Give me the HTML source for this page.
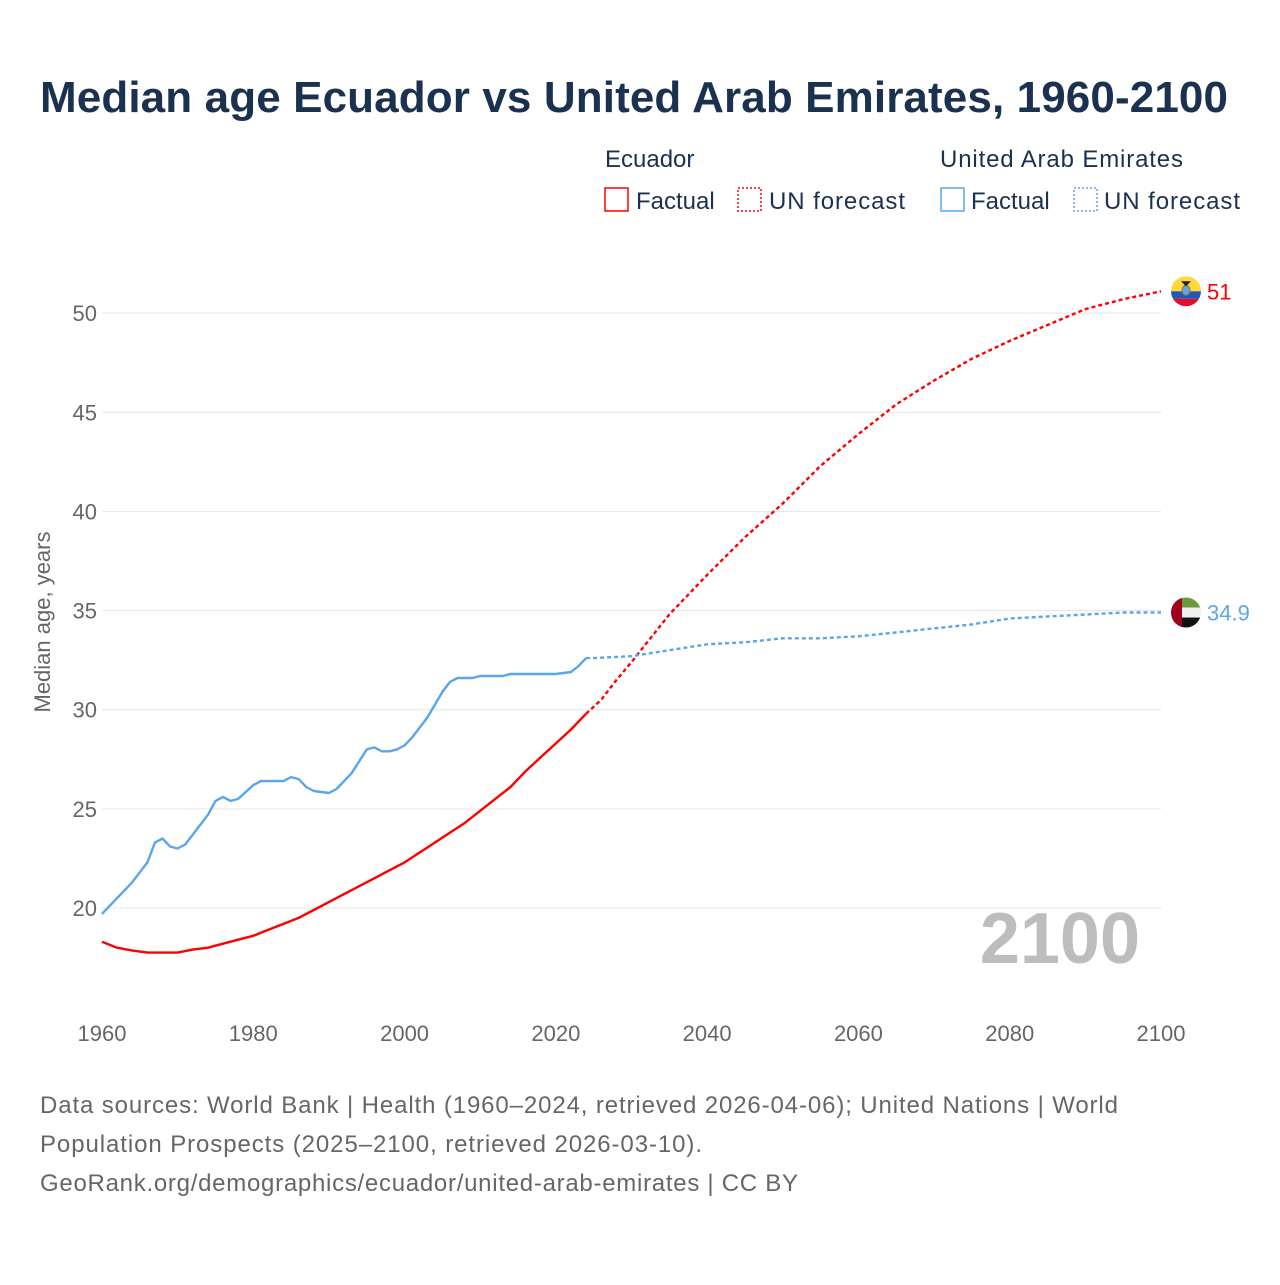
<!DOCTYPE html>
<html><head><meta charset="utf-8"><style>
body{margin:0;background:#fff;font-family:"Liberation Sans",sans-serif;}
svg text{font-family:"Liberation Sans",sans-serif;}
</style></head><body>
<svg id="chart" width="1280" height="1280" viewBox="0 0 1280 1280">
<rect width="1280" height="1280" fill="#fff"/>
<text x="40" y="112" font-size="44" font-weight="bold" fill="#1a3150" textLength="1188">Median age Ecuador vs United Arab Emirates, 1960-2100</text>
<g font-size="24" fill="#1a3150">
<text x="605" y="167">Ecuador</text>
<rect x="605" y="188" width="23" height="23" fill="none" stroke="#f00" stroke-width="1.5"/>
<text x="636" y="209">Factual</text>
<rect x="738" y="188" width="23" height="23" fill="none" stroke="#f00" stroke-width="1.5" stroke-dasharray="2,2"/>
<text x="769" y="209" textLength="136">UN forecast</text>
<text x="940" y="167" textLength="243">United Arab Emirates</text>
<rect x="941" y="188" width="23" height="23" fill="none" stroke="#5aa5ec" stroke-width="1.5"/>
<text x="971" y="209">Factual</text>
<rect x="1074" y="188" width="23" height="23" fill="none" stroke="#5aa5ec" stroke-width="1.5" stroke-dasharray="2,2"/>
<text x="1104" y="209" textLength="136">UN forecast</text>
</g>
<g id="grid"></g><g id="axes"></g><g id="series"></g>
<text x="1140" y="963" font-size="72" font-weight="bold" fill="#bdbdbd" text-anchor="end">2100</text>
<text transform="translate(50,622) rotate(-90)" font-size="22" fill="#666" text-anchor="middle">Median age, years</text>
<g font-size="24" fill="#666">
<text x="40" y="1113" textLength="1078">Data sources: World Bank | Health (1960–2024, retrieved 2026-04-06); United Nations | World</text>
<text x="40" y="1152" textLength="662">Population Prospects (2025–2100, retrieved 2026-03-10).</text>
<text x="40" y="1191" textLength="758">GeoRank.org/demographics/ecuador/united-arab-emirates | CC BY</text>
</g>
</svg>
<script>
const yTicks=[20,25,30,35,40,45,50];
const xTicks=[1960,1980,2000,2020,2040,2060,2080,2100];
const ecuYears=[1960,1962,1964,1966,1970,1972,1974,1976,1978,1980,1982,1984,1986,1988,1990,1992,1994,1996,1998,2000,2002,2004,2006,2008,2010,2012,2014,2016,2018,2020,2022,2024];
const ecuValues=[18.3,18.0,17.85,17.75,17.75,17.9,18.0,18.2,18.4,18.6,18.9,19.2,19.5,19.9,20.3,20.7,21.1,21.5,21.9,22.3,22.8,23.3,23.8,24.3,24.9,25.5,26.1,26.9,27.6,28.3,29.0,29.8];
const ecuFcYears=[2024,2026,2028,2030,2035,2040,2045,2050,2055,2060,2065,2070,2075,2080,2085,2090,2095,2100];
const ecuFcValues=[29.8,30.5,31.5,32.4,34.8,36.8,38.7,40.4,42.3,43.9,45.4,46.6,47.7,48.6,49.4,50.2,50.7,51.1];
const uaeYears=[1960,1962,1964,1966,1967,1968,1969,1970,1971,1972,1974,1975,1976,1977,1978,1980,1981,1984,1985,1986,1987,1988,1990,1991,1993,1995,1996,1997,1998,1999,2000,2001,2003,2005,2006,2007,2009,2010,2013,2014,2020,2022,2023,2024];
const uaeValues=[19.7,20.5,21.3,22.3,23.3,23.5,23.1,23.0,23.2,23.7,24.7,25.4,25.6,25.4,25.5,26.2,26.4,26.4,26.6,26.5,26.1,25.9,25.8,26.0,26.8,28.0,28.1,27.9,27.9,28.0,28.2,28.6,29.6,30.9,31.4,31.6,31.6,31.7,31.7,31.8,31.8,31.9,32.2,32.6];
const uaeFcYears=[2024,2025,2030,2035,2040,2045,2050,2055,2060,2065,2070,2075,2080,2085,2090,2095,2100];
const uaeFcValues=[32.6,32.6,32.7,33.0,33.3,33.4,33.6,33.6,33.7,33.9,34.1,34.3,34.6,34.7,34.8,34.9,34.9];
const NS="http://www.w3.org/2000/svg";
const X=yr=>102+(yr-1960)*(1059/140);
const Y=v=>908-(v-20)*19.83;
function mk(t,a,p){const e=document.createElementNS(NS,t);for(const k in a)e.setAttribute(k,a[k]);p.appendChild(e);return e;}
const grid=document.getElementById('grid'),axes=document.getElementById('axes'),ser=document.getElementById('series');
yTicks.forEach(v=>{
 const l=mk('line',{x1:102,x2:1161,y1:Y(v),y2:Y(v),stroke:'#e6e6e6','stroke-width':1},grid);
 
 
 const t=mk('text',{x:97,y:Y(v)+8,'font-size':22,fill:'#666','text-anchor':'end'},axes);
 t.textContent=v;
 
 
});
xTicks.forEach(v=>{
 const t=mk('text',{x:X(v),y:1041,'font-size':22,fill:'#666','text-anchor':'middle'},axes);
 t.textContent=v;
 
 
});
function line(xs,vs,color,dash,name){
 const d=xs.map((x,i)=>(i?'L':'M')+X(x).toFixed(1)+','+Y(vs[i]).toFixed(1)).join('');
 const p=mk('path',{d:d,fill:'none',stroke:color,'stroke-width':2.4,'stroke-dasharray':dash||'none','stroke-linejoin':'round'},ser);
 
 
}
line(ecuYears,ecuValues,'#f00','','ecuador-factual-line');
line(ecuFcYears,ecuFcValues,'#f00','4,3','ecuador-forecast-line');
line(uaeYears,uaeValues,'#5aa5ec','','uae-factual-line');
line(uaeFcYears,uaeFcValues,'#5aa5ec','4,3','uae-forecast-line');
const ex=X(2100)+25, ey=Y(ecuFcValues[ecuFcValues.length-1]);
const ef=mk('g',{},ser);


const cp1=mk('clipPath',{id:'c1'},ef);mk('circle',{cx:ex,cy:ey,r:15},cp1);
const eg=mk('g',{'clip-path':'url(#c1)'},ef);
mk('rect',{x:ex-15,y:ey-15,width:30,height:15,fill:'#ffd93b'},eg);
mk('rect',{x:ex-15,y:ey,width:30,height:7.5,fill:'#2057b8'},eg);
mk('rect',{x:ex-15,y:ey+7.5,width:30,height:7.5,fill:'#e0102c'},eg);
mk('ellipse',{cx:ex,cy:ey-1,rx:4,ry:5,fill:'#5aa5ec',stroke:'#a07020','stroke-width':1},ef);
mk('path',{d:`M${ex-5},${ey-10}L${ex+5},${ey-10}L${ex},${ey-5}Z`,fill:'#222'},ef);
const el=mk('text',{x:ex+21,y:ey+8,'font-size':22,fill:'#f00'},ser);
el.textContent='51';


const ux=ex, uy=Y(uaeFcValues[uaeFcValues.length-1]);
const uf=mk('g',{},ser);


const cp=mk('clipPath',{id:'c2'},uf);mk('circle',{cx:ux,cy:uy,r:15},cp);
const ug=mk('g',{'clip-path':'url(#c2)'},uf);
mk('rect',{x:ux-15,y:uy-15,width:30,height:10,fill:'#6a9a3c'},ug);
mk('rect',{x:ux-15,y:uy-5,width:30,height:10,fill:'#f0f0f0'},ug);
mk('rect',{x:ux-15,y:uy+5,width:30,height:10,fill:'#111'},ug);
mk('rect',{x:ux-15,y:uy-15,width:11,height:30,fill:'#a0001e'},ug);
const ul=mk('text',{x:ux+21,y:uy+8,'font-size':22,fill:'#5aa5ec'},ser);
ul.textContent='34.9';


</script>
</body></html>
